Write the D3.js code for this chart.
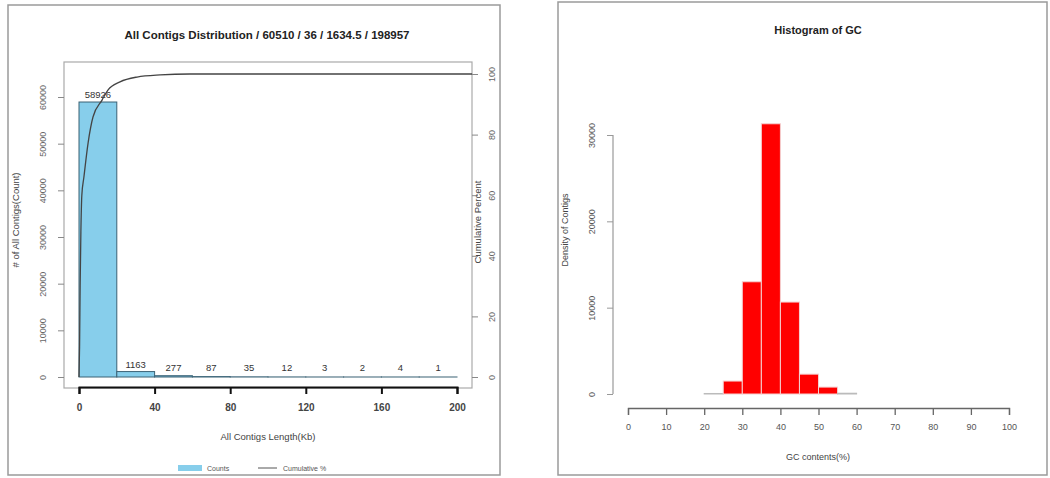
<!DOCTYPE html>
<html>
<head>
<meta charset="utf-8">
<script src="https://cdn.jsdelivr.net/npm/d3@7"></script>
<style>
  html, body { margin: 0; padding: 0; background: #fff; }
  svg { display: block; font-family: "Liberation Sans", Arial, sans-serif; }
</style>
</head>
<body>
<svg id="chart" width="1050" height="478"></svg>
<script>
// ---------------- DATA ----------------
const lenTitle = "All Contigs Distribution / 60510 / 36 / 1634.5 / 198957";
const lenBinStarts = [0, 20, 40, 60, 80, 100, 120, 140, 160, 180];
const lenBinWidth = 20;
const lenCounts = [58926, 1163, 277, 87, 35, 12, 3, 2, 4, 1];
const lenXTicks = [0, 40, 80, 120, 160, 200];
const lenYTicks = [0, 10000, 20000, 30000, 40000, 50000, 60000];
const cumTicks = [0, 20, 40, 60, 80, 100];
const cumKb  = [0, 0.3, 0.6, 1.0, 1.5, 2.6, 4.8, 7.4, 12.2, 15.3, 21.7, 30.7, 42.9, 58.7, 100, 208];
const cumPct = [0, 10, 30, 48, 60, 66, 77.2, 85.8, 91.4, 94.7, 97.4, 99.0, 99.7, 100, 100, 100];
const legendLabels = ["Counts", "Cumulative %"];

const gcTitle = "Histogram of GC";
const gcBinStarts = [20, 25, 30, 35, 40, 45, 50, 55];
const gcBinWidth = 5;
const gcCounts = [60, 1500, 13000, 31300, 10650, 2300, 800, 90];
const gcXTicks = [0, 10, 20, 30, 40, 50, 60, 70, 80, 90, 100];
const gcYTicks = [0, 10000, 20000, 30000];

// ---------------- DRAW ----------------
const svg = d3.select("#chart");

// ===== Left panel =====
const L = svg.append("g");
L.append("rect").attr("x", 8).attr("y", 5).attr("width", 492).attr("height", 470)
  .attr("fill", "none").attr("stroke", "#9a9a9a").attr("stroke-width", 1.5);

const xL = d3.scaleLinear().domain([0, 200]).range([79, 457]);
const yL = d3.scaleLinear().domain([0, 60000]).range([377, 97]);
const yR = d3.scaleLinear().domain([0, 100]).range([377, 74]);

// plot box
L.append("rect").attr("x", 64).attr("y", 62).attr("width", 408).attr("height", 326)
  .attr("fill", "none").attr("stroke", "#aaa").attr("stroke-width", 1.2);

L.append("text").attr("x", 267).attr("y", 39).attr("text-anchor", "middle")
  .attr("font-size", 11.5).attr("font-weight", "bold").attr("fill", "#222").text(lenTitle);

// bars
L.selectAll("rect.bar").data(lenCounts).join("rect").attr("class", "bar")
  .attr("x", (d, i) => xL(lenBinStarts[i]))
  .attr("width", (d, i) => xL(lenBinStarts[i] + lenBinWidth) - xL(lenBinStarts[i]))
  .attr("y", d => yL(d))
  .attr("height", d => Math.max(0, yL(0) - yL(d)))
  .attr("fill", "#87CEEB").attr("stroke", "#3b6275").attr("stroke-width", 1);

// bar labels
L.selectAll("text.blab").data(lenCounts).join("text").attr("class", "blab")
  .attr("x", (d, i) => xL(lenBinStarts[i] + lenBinWidth / 2))
  .attr("y", d => Math.min(yL(d) - 4, 371))
  .attr("text-anchor", "middle").attr("font-size", 9.5).attr("fill", "#333")
  .text(d => d);

// cumulative line
const cumData = cumKb.map((k, i) => [k, cumPct[i]]);
L.append("path").datum(cumData)
  .attr("d", d3.line().x(d => xL(d[0])).y(d => yR(d[1])).curve(d3.curveMonotoneX))
  .attr("fill", "none").attr("stroke", "#444").attr("stroke-width", 1.3);

// x axis
const xAxL = L.append("g").attr("transform", "translate(0,387)")
  .call(d3.axisBottom(xL).tickValues(lenXTicks).tickSize(7).tickPadding(10));
xAxL.select(".domain").attr("stroke", "#111").attr("stroke-width", 2);
xAxL.selectAll(".tick line").attr("stroke", "#111").attr("stroke-width", 2);
xAxL.selectAll(".tick text").attr("font-size", 10).attr("font-weight", "bold")
  .attr("fill", "#444").attr("font-family", "Liberation Sans, Arial, sans-serif");

// left y axis (rotated labels)
const yAxL = L.append("g").attr("transform", "translate(64,0)")
  .call(d3.axisLeft(yL).tickValues(lenYTicks).tickSize(6).tickFormat(d3.format("d")));
yAxL.select(".domain").remove();
yAxL.selectAll(".tick line").attr("stroke", "#888");
yAxL.selectAll(".tick text").attr("font-size", 9).attr("fill", "#666")
  .attr("font-family", "Liberation Sans, Arial, sans-serif")
  .attr("text-anchor", "middle").attr("x", null).attr("dy", null)
  .attr("transform", "translate(-20,0) rotate(-90)").attr("dominant-baseline", "middle");

// right y axis (cumulative)
const yAxR = L.append("g").attr("transform", "translate(472,0)")
  .call(d3.axisRight(yR).tickValues(cumTicks).tickSize(6));
yAxR.select(".domain").remove();
yAxR.selectAll(".tick line").attr("stroke", "#888");
yAxR.selectAll(".tick text").attr("font-size", 9).attr("fill", "#666")
  .attr("font-family", "Liberation Sans, Arial, sans-serif")
  .attr("text-anchor", "middle").attr("x", null).attr("dy", null)
  .attr("transform", "translate(21,0) rotate(-90)").attr("dominant-baseline", "middle");

// axis titles
L.append("text").attr("transform", "translate(19,220) rotate(-90)").attr("text-anchor", "middle")
  .attr("font-size", 9.5).attr("fill", "#444").text("# of All Contigs(Count)");
L.append("text").attr("transform", "translate(481,222) rotate(-90)").attr("text-anchor", "middle")
  .attr("font-size", 9.5).attr("fill", "#444").text("Cumulative Percent");
L.append("text").attr("x", 268).attr("y", 440).attr("text-anchor", "middle")
  .attr("font-size", 9.5).attr("fill", "#444").text("All Contigs Length(Kb)");

// legend
L.append("rect").attr("x", 178).attr("y", 465).attr("width", 24).attr("height", 6).attr("fill", "#87CEEB");
L.append("text").attr("x", 207).attr("y", 471).attr("font-size", 7).attr("fill", "#555").text(legendLabels[0]);
L.append("line").attr("x1", 258).attr("x2", 277).attr("y1", 468).attr("y2", 468).attr("stroke", "#555").attr("stroke-width", 1);
L.append("text").attr("x", 283).attr("y", 471).attr("font-size", 7).attr("fill", "#555").text(legendLabels[1]);

// ===== Right panel =====
const R = svg.append("g");
R.append("rect").attr("x", 558).attr("y", 2).attr("width", 489).attr("height", 473)
  .attr("fill", "none").attr("stroke", "#9a9a9a").attr("stroke-width", 1.5);

const xG = d3.scaleLinear().domain([0, 100]).range([628, 1009]);
const yG = d3.scaleLinear().domain([0, 30000]).range([394, 135]);

R.append("text").attr("x", 818).attr("y", 34).attr("text-anchor", "middle")
  .attr("font-size", 11).attr("font-weight", "bold").attr("fill", "#222").text(gcTitle);

R.selectAll("rect.gbar").data(gcCounts).join("rect").attr("class", "gbar")
  .attr("x", (d, i) => xG(gcBinStarts[i]))
  .attr("width", (d, i) => xG(gcBinStarts[i] + gcBinWidth) - xG(gcBinStarts[i]))
  .attr("y", d => yG(d))
  .attr("height", d => Math.max(0, yG(0) - yG(d)))
  .attr("fill", d => d > 500 ? "#ff0000" : "#bbb")
  .attr("stroke", d => d > 500 ? "#f4d0d0" : "#bbb").attr("stroke-width", 1);

const xAxG = R.append("g").attr("transform", "translate(0,408)")
  .call(d3.axisBottom(xG).tickValues(gcXTicks).tickSize(7).tickPadding(9));
xAxG.select(".domain").attr("stroke", "#666").attr("stroke-width", 1.3);
xAxG.selectAll(".tick line").attr("stroke", "#666").attr("stroke-width", 1.3);
xAxG.selectAll(".tick text").attr("font-size", 9).attr("fill", "#555")
  .attr("font-family", "Liberation Sans, Arial, sans-serif");

const yAxG = R.append("g").attr("transform", "translate(613,0)")
  .call(d3.axisLeft(yG).tickValues(gcYTicks).tickSize(6).tickFormat(d3.format("d")));
yAxG.select(".domain").attr("stroke", "#999").attr("stroke-width", 1.2)
  .attr("d", `M0,${yG(30000)}V${yG(0)}`);
yAxG.selectAll(".tick line").attr("stroke", "#999");
yAxG.selectAll(".tick text").attr("font-size", 9).attr("fill", "#555")
  .attr("font-family", "Liberation Sans, Arial, sans-serif")
  .attr("text-anchor", "middle").attr("x", null).attr("dy", null)
  .attr("transform", "translate(-20,0) rotate(-90)").attr("dominant-baseline", "middle");

R.append("text").attr("transform", "translate(568,230) rotate(-90)").attr("text-anchor", "middle")
  .attr("font-size", 9).attr("fill", "#444").text("Density of Contigs");
R.append("text").attr("x", 818).attr("y", 460).attr("text-anchor", "middle")
  .attr("font-size", 9).attr("fill", "#444").text("GC contents(%)");
</script>
</body>
</html>
